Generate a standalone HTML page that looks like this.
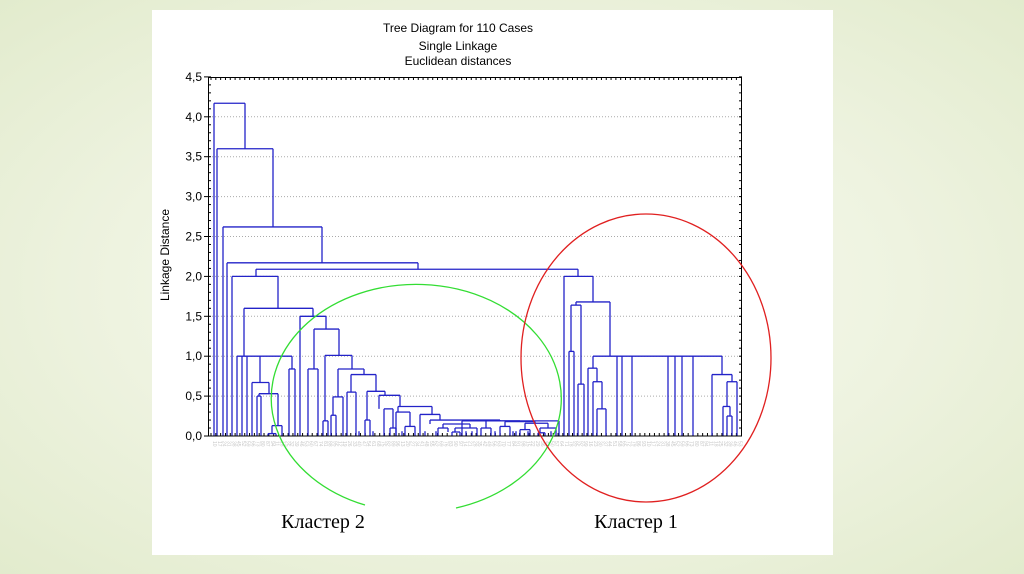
<!DOCTYPE html>
<html><head><meta charset="utf-8"><style>
html,body{margin:0;padding:0;width:1024px;height:574px;overflow:hidden}
body{background:radial-gradient(ellipse at center,#f9fbf2 0%,#eef3e0 55%,#e2ebcd 100%);}
#panel{position:absolute;left:152px;top:10px;width:681px;height:545px;background:#fff}
svg{position:absolute;left:0;top:0}
</style></head><body>
<div id="panel"></div>
<svg id="s" width="1024" height="574" xmlns="http://www.w3.org/2000/svg" font-family="Liberation Sans, Arial, sans-serif">
<text x="458" y="32" font-size="12" text-anchor="middle">Tree Diagram for 110 Cases</text>
<text x="458" y="50" font-size="12" text-anchor="middle">Single Linkage</text>
<text x="458" y="65" font-size="12" text-anchor="middle">Euclidean distances</text>
<text transform="translate(169,255) rotate(-90)" font-size="12" text-anchor="middle">Linkage Distance</text>
<text x="323" y="528" font-size="20" font-family="Liberation Serif, serif" text-anchor="middle">Кластер 2</text>
<text x="636" y="528" font-size="20" font-family="Liberation Serif, serif" text-anchor="middle">Кластер 1</text>
<g id="g"></g>
</svg>
<script>
var g=document.getElementById('g'),h='';
function Y(v){return 436-79.8*v;}
function L(x1,y1,x2,y2,c,w,d){h+='<line x1="'+x1+'" y1="'+y1+'" x2="'+x2+'" y2="'+y2+'" stroke="'+c+'" stroke-width="'+(w||1)+'"'+(d?' stroke-dasharray="'+d+'"':'')+'/>';}
var labs=['0,0','0,5','1,0','1,5','2,0','2,5','3,0','3,5','4,0','4,5'];
for(var i=0;i<10;i++){var y=Y(i*0.5);if(i>0&&i<9)L(209,y,741,y,'#aaa',1,'1,2');L(204,y,208,y,'#000');
h+='<text x="202" y="'+(y+4)+'" font-size="12" text-anchor="end">'+labs[i]+'</text>';}
for(var v=0;v<=4.5;v+=0.1){var y=Y(v);L(208,y,211,y,'#000');L(739,y,742,y,'#000');}
for(var k=0;k<110;k++){var x=211+k*4.82;L(x,77,x,80,'#000');L(x,433,x,436,'#000');
h+='<text transform="translate('+(x+2)+',441) rotate(90)" font-size="5" fill="#c8c8c8">'+(10+(k*7)%90)+'</text>';}
var B='#2323c8';
function U(a,b,t,l,r){L(a,Y(t),b,Y(t),B,1.3);L(a,Y(t),a,Y(l),B,1.3);L(b,Y(t),b,Y(r),B,1.3);}
var links=[[214,245,4.17,0,3.6],[217,273,3.6,0,2.62],[223,322,2.62,0,2.17],[227,418,2.17,0,2.09],[256,578,2.09,2.0,2.0],
[232,278,2.0,0,1.6],[244,313,1.6,1.0,1.5],[289,295,0.84,0,0],[252,269,0.67,0,0.53],[259,278,0.53,0.5,0.13],[257,261,0.5,0,0],
[272,282,0.13,0.03,0],[268,276,0.03,0,0],[300,326,1.5,0,1.34],[314,339,1.34,0.84,1.01],[308,318,0.84,0,0],[325,352,1.01,0.19,0.84],
[323,328,0.19,0,0],[338,364,0.84,0.49,0.77],[333,343,0.49,0.26,0],[331,336,0.26,0,0],[351,376,0.77,0.55,0.56],[347,356,0.55,0,0],
[367,385,0.56,0.2,0.51],[365,370,0.2,0,0],[379,400,0.51,0.34,0.37],[384,393,0.34,0,0.1],[390,396,0.1,0,0],[398,432,0.37,0.3,0.27],
[396,410,0.3,0,0.12],[405,415,0.12,0,0],[420,440,0.27,0,0.2],[430,500,0.2,0.15,0.19],[443,470,0.15,0.1,0.1],[438,448,0.1,0,0.05],
[455,477,0.1,0.05,0],[452,460,0.05,0,0],[486,520,0.19,0.1,0.18],[481,491,0.1,0,0],[505,535,0.18,0.12,0.16],[500,510,0.12,0,0],
[525,548,0.16,0.08,0.1],[520,530,0.08,0,0],[540,556,0.1,0.04,0],[538,545,0.04,0,0],[462,559,0.19,0,0],
[564,593,2.0,0,1.68],[576,610,1.68,1.64,1.0],[571,581,1.64,1.06,0.65],[569,574,1.06,0,0],[578,584,0.65,0,0],
[588,597,0.85,0,0.68],[593,602,0.68,0,0.34],[597,606,0.34,0,0],[712,732,0.77,0,0.68],[727,737,0.68,0.37,0],[723,730,0.37,0,0.25],[727,732,0.25,0,0]];
links.forEach(function(a){U(a[0],a[1],a[2],a[3],a[4]);});
L(237,Y(1),292,Y(1),B,1.3);[237,242,247].forEach(function(x){L(x,Y(1),x,436,B,1.3);});L(260,Y(1),260,Y(0.67),B,1.3);L(292,Y(1),292,Y(0.84),B,1.3);
L(593,Y(1),722,Y(1),B,1.3);L(593,Y(1),593,Y(0.85),B,1.3);L(722,Y(1),722,Y(0.77),B,1.3);
[617,622,632,668,675,682,693].forEach(function(x){L(x,Y(1),x,436,B,1.3);});
[359,373,402,425,436,466,472,495,513,516,528,551].forEach(function(x){L(x,436,x,Y(0.06),B,1.3);});
h+='<rect x="208.5" y="77.5" width="533" height="358.5" fill="none" stroke="#000" stroke-width="1"/>';
h+='<path d="M365,505 A145,114 0 1 1 456,508" fill="none" stroke="#33dd33" stroke-width="1.3"/>';
h+='<ellipse cx="646" cy="358" rx="125" ry="144" fill="none" stroke="#e02020" stroke-width="1.3"/>';
g.innerHTML=h;
</script>
</body></html>
